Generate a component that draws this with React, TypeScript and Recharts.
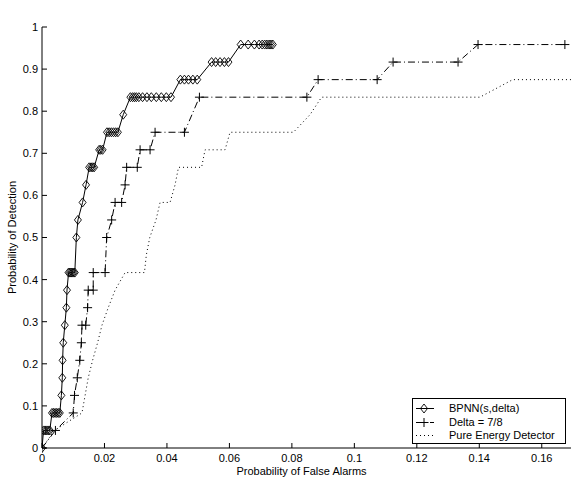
import React from 'react';
import { LineChart, Line, XAxis, YAxis, Legend, Label } from 'recharts';

// probability of false alarm / detection for each detector
const bpnnFa = [
  0, 0.0005, 0.001, 0.0015, 0.002, 0.0025,
  0.0032, 0.0037, 0.0042, 0.0047, 0.0052, 0.0057,
  0.0062, 0.0065, 0.0066, 0.0068, 0.0073, 0.0078, 0.008,
  0.0085, 0.0089, 0.0093, 0.0097, 0.0101, 0.0105,
  0.011, 0.0115, 0.013, 0.0141,
  0.0151, 0.0157, 0.0162, 0.0167,
  0.0183, 0.0188, 0.0194,
  0.0208, 0.0215, 0.0222, 0.0229, 0.0236, 0.0243,
  0.026,
  0.0283, 0.029, 0.0296, 0.0302, 0.031, 0.0322, 0.0336, 0.035, 0.0366, 0.0382, 0.0398, 0.0413,
  0.0443, 0.0456, 0.0469, 0.0483, 0.0497,
  0.0543, 0.0556, 0.057, 0.0584, 0.0597,
  0.0636, 0.066, 0.068, 0.0695, 0.0705, 0.0713, 0.072, 0.0727, 0.0733, 0.0739,
];
const bpnnPd = [
  0, 0.0417, 0.0417, 0.0417, 0.0417, 0.0417,
  0.0833, 0.0833, 0.0833, 0.0833, 0.0833, 0.0833,
  0.125, 0.1667, 0.2083, 0.25, 0.2917, 0.3333, 0.375,
  0.4167, 0.4167, 0.4167, 0.4167, 0.4167, 0.4167,
  0.5, 0.5417, 0.5833, 0.625,
  0.6667, 0.6667, 0.6667, 0.6667,
  0.7083, 0.7083, 0.7083,
  0.75, 0.75, 0.75, 0.75, 0.75, 0.75,
  0.7917,
  0.8333, 0.8333, 0.8333, 0.8333, 0.8333, 0.8333, 0.8333, 0.8333, 0.8333, 0.8333, 0.8333, 0.8333,
  0.875, 0.875, 0.875, 0.875, 0.875,
  0.9167, 0.9167, 0.9167, 0.9167, 0.9167,
  0.9583, 0.9583, 0.9583, 0.9583, 0.9583, 0.9583, 0.9583, 0.9583, 0.9583, 0.9583,
];

const deltaFa = [
  0, 0.0043, 0.01, 0.0104, 0.0113, 0.0121, 0.0126, 0.0128, 0.014, 0.0146, 0.0148, 0.0164,
  0.0164, 0.0202, 0.0207, 0.0223, 0.0234, 0.0255, 0.0266, 0.0271, 0.0305, 0.0314, 0.0346,
  0.0362, 0.0456, 0.0504, 0.0848, 0.0884, 0.1073, 0.1124, 0.1332, 0.1396, 0.1674,
];
const deltaPd = [
  0, 0.0417, 0.0833, 0.125, 0.1667, 0.2083, 0.25, 0.2917, 0.2917, 0.3333, 0.375, 0.375,
  0.4167, 0.4167, 0.5, 0.5417, 0.5833, 0.5833, 0.625, 0.6667, 0.6667, 0.7083, 0.7083,
  0.75, 0.75, 0.8333, 0.8333, 0.875, 0.875, 0.9167, 0.9167, 0.9583, 0.9583,
];

const energyFa = [
  0, 0.004, 0.0128, 0.0138, 0.0148, 0.0162, 0.0178, 0.0192, 0.0212, 0.0234, 0.0266, 0.0328,
  0.0334, 0.0345, 0.0365, 0.0378, 0.041, 0.0426, 0.0437, 0.0511, 0.0522, 0.0586, 0.0602,
  0.0805, 0.0858, 0.0895, 0.1402, 0.1507, 0.17,
];
const energyPd = [
  0, 0.0417, 0.0833, 0.125, 0.1667, 0.2083, 0.25, 0.2917, 0.3333, 0.375, 0.4167, 0.4167,
  0.4583, 0.5, 0.5417, 0.5833, 0.5833, 0.625, 0.6667, 0.6667, 0.7083, 0.7083, 0.75,
  0.75, 0.7917, 0.8333, 0.8333, 0.875, 0.875,
];

const xTicks = [0, 0.02, 0.04, 0.06, 0.08, 0.1, 0.12, 0.14, 0.16];
const yTicks = [0, 0.1, 0.2, 0.3, 0.4, 0.5, 0.6, 0.7, 0.8, 0.9, 1];

const FONT = '"Liberation Sans", Arial, Helvetica, sans-serif';

const toPoints = (fa: number[], pd: number[]) => fa.map((x, i) => ({ fa: x, pd: pd[i] }));

const Diamond = (p: any) => {
  const { cx, cy, key } = p;
  if (cx == null || cy == null) return <g key={key} />;
  return (
    <path
      key={key}
      d={`M${cx},${cy - 4.5}L${cx + 3.5},${cy}L${cx},${cy + 4.5}L${cx - 3.5},${cy}Z`}
      fill="none"
      stroke="#000"
      strokeWidth={0.9}
    />
  );
};

const Plus = (p: any) => {
  const { cx, cy, key } = p;
  if (cx == null || cy == null) return <g key={key} />;
  return (
    <path
      key={key}
      d={`M${cx - 4.5},${cy}H${cx + 4.5}M${cx},${cy - 4.5}V${cy + 4.5}`}
      fill="none"
      stroke="#000"
      strokeWidth={1}
    />
  );
};

const series = [
  { name: 'BPNN(s,delta)', data: toPoints(bpnnFa, bpnnPd), dash: undefined, marker: 'diamond' },
  { name: 'Delta = 7/8', data: toPoints(deltaFa, deltaPd), dash: '7 3 1 3', marker: 'plus' },
  { name: 'Pure Energy Detector', data: toPoints(energyFa, energyPd), dash: '1 3', marker: 'none' },
];

const LegendBox = () => (
  <div
    style={{
      width: 154,
      height: 46,
      boxSizing: 'border-box',
      border: '1px solid #000',
      background: '#fff',
      paddingTop: 3,
      fontFamily: FONT,
      fontSize: 11,
      color: '#000',
    }}
  >
    {series.map((s) => (
      <div key={s.name} style={{ display: 'flex', alignItems: 'center', height: 13.5 }}>
        <svg width={36} height={13} style={{ flex: 'none' }}>
          <line x1={3} y1={6.5} x2={21} y2={6.5} stroke="#000" strokeWidth={1} strokeDasharray={s.dash} />
          {s.marker === 'diamond' && <Diamond cx={11} cy={6.5} />}
          {s.marker === 'plus' && <Plus cx={11} cy={6.5} />}
        </svg>
        <span style={{ lineHeight: '13px' }}>{s.name}</span>
      </div>
    ))}
  </div>
);

const Title = (props: any) => {
  const { x, y, width } = props.viewBox;
  return (
    <text x={x + width / 2 + 3} y={y - 8} textAnchor="middle" fontSize={11} fontFamily={FONT} fill="#000">
      ROC Curve for FP20 0.5m Z Coil
    </text>
  );
};

const XTitle = (props: any) => {
  const { x, y, width, height } = props.viewBox;
  return (
    <text x={x + width / 2 - 6} y={y + height + 7} textAnchor="middle" fontSize={11} fontFamily={FONT} fill="#000">
      Probability of False Alarms
    </text>
  );
};

const YTitle = (props: any) => {
  const { x, y, height } = props.viewBox;
  const cx = x + 8;
  const cy = y + height / 2;
  return (
    <text
      x={cx}
      y={cy}
      transform={`rotate(-90 ${cx} ${cy})`}
      textAnchor="middle"
      dominantBaseline="central"
      fontSize={11}
      fontFamily={FONT}
      fill="#000"
    >
      Probability of Detection
    </text>
  );
};

const tickStyle = { fill: '#000', fontSize: 11, fontFamily: FONT };

export default function App() {
  return (
    <div
      style={{
        position: 'absolute',
        left: 0,
        top: 0,
        width: 571,
        height: 481,
        overflow: 'hidden',
        background: '#fff',
      }}
    >
      <LineChart width={580} height={481} margin={{ top: 27, right: 7, bottom: 13, left: 4 }}>
        <XAxis
          xAxisId="bottom"
          dataKey="fa"
          type="number"
          domain={[0, 0.17]}
          allowDataOverflow
          ticks={xTicks}
          tickFormatter={(v) => String(v)}
          tick={tickStyle}
          tickSize={-5}
          tickMargin={11}
          height={20}
          axisLine={{ stroke: '#000' }}
          tickLine={{ stroke: '#000' }}
        >
          <Label content={XTitle} />
        </XAxis>
        <XAxis
          xAxisId="top"
          orientation="top"
          dataKey="fa"
          type="number"
          domain={[0, 0.17]}
          allowDataOverflow
          ticks={xTicks}
          tick={() => <g />}
          tickSize={-5}
          height={0}
          axisLine={{ stroke: '#000' }}
          tickLine={{ stroke: '#000' }}
        >
          <Label content={Title} />
        </XAxis>
        <YAxis
          yAxisId="left"
          type="number"
          domain={[0, 1]}
          ticks={yTicks}
          tickFormatter={(v) => String(v)}
          tick={tickStyle}
          tickSize={-5}
          tickMargin={9}
          width={38}
          axisLine={{ stroke: '#000' }}
          tickLine={{ stroke: '#000' }}
        >
          <Label content={YTitle} />
        </YAxis>
        <Legend
          layout="vertical"
          align="center"
          verticalAlign="middle"
          content={() => <LegendBox />}
          wrapperStyle={{ left: 412, top: 398, width: 154, height: 46 }}
        />
        {series.map((s) => (
          <Line
            key={s.name}
            name={s.name}
            data={s.data}
            xAxisId="bottom"
            yAxisId="left"
            dataKey="pd"
            type="linear"
            stroke="#000"
            strokeWidth={1}
            strokeDasharray={s.dash}
            dot={s.marker === 'diamond' ? Diamond : s.marker === 'plus' ? Plus : false}
            activeDot={false}
            isAnimationActive={false}
          />
        ))}
      </LineChart>
    </div>
  );
}
